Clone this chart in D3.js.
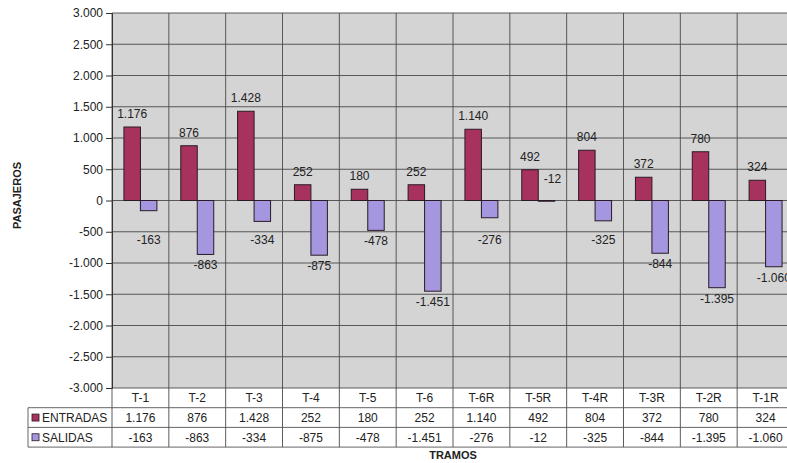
<!DOCTYPE html>
<html>
<head>
<meta charset="utf-8">
<script src="https://cdn.jsdelivr.net/npm/d3@7"></script>
<style>
  html, body { margin: 0; padding: 0; background: #fff; }
  svg { display: block; font-family: "Liberation Sans", Arial, sans-serif; }
</style>
</head>
<body>
<svg id="chart" width="787" height="463"></svg>
<script>
// Passengers boarding (entradas) and alighting (salidas) per route section
const tramos   = ["T-1", "T-2", "T-3", "T-4", "T-5", "T-6", "T-6R", "T-5R", "T-4R", "T-3R", "T-2R", "T-1R"];
const entradas = [1176, 876, 1428, 252, 180, 252, 1140, 492, 804, 372, 780, 324];
const salidas  = [-163, -863, -334, -875, -478, -1451, -276, -12, -325, -844, -1395, -1060];
const yTicks   = [-3000, -2500, -2000, -1500, -1000, -500, 0, 500, 1000, 1500, 2000, 2500, 3000];
const series = [
  { name: "ENTRADAS", values: entradas, color: "#a8325e" },
  { name: "SALIDAS",  values: salidas,  color: "#a596e0" }
];

// Spanish number style: dot as thousands separator, plain hyphen for negatives
const es = d3.formatLocale({ decimal: ",", thousands: ".", grouping: [3], currency: ["", ""], minus: "-" });
const fmt = es.format(",d");

const svg = d3.select("#chart");
const plot = { left: 112, right: 794, top: 13, bottom: 388 };
const rowH = 19.7;
const legendLeft = 28;
const tableBottom = plot.bottom + rowH * 3;

const x = d3.scaleBand().domain(tramos).range([plot.left, plot.right]);
const y = d3.scaleLinear().domain([-3000, 3000]).range([plot.bottom, plot.top]);
const barW = x.bandwidth() * 0.29;

// plot background
svg.append("rect")
  .attr("x", plot.left).attr("y", plot.top)
  .attr("width", plot.right - plot.left).attr("height", plot.bottom - plot.top)
  .attr("fill", "#d4d4d5");

// horizontal gridlines
svg.append("g").selectAll("line").data(yTicks).join("line")
  .attr("x1", plot.left).attr("x2", plot.right)
  .attr("y1", d => y(d)).attr("y2", d => y(d))
  .attr("stroke", "#4a4a4a").attr("stroke-width", 0.9);

// vertical category separators, running down through the data table
const bounds = tramos.map(t => x(t)).concat([plot.right]);
svg.append("g").selectAll("line").data(bounds).join("line")
  .attr("x1", d => d).attr("x2", d => d)
  .attr("y1", plot.top).attr("y2", tableBottom)
  .attr("stroke", "#4a4a4a").attr("stroke-width", 0.9);

// y axis
const yAxis = d3.axisLeft(y).tickValues(yTicks).tickFormat(fmt).tickSize(6).tickPadding(3);
const ga = svg.append("g").attr("transform", `translate(${plot.left},0)`).call(yAxis);
ga.select(".domain").attr("stroke", "#333");
ga.selectAll(".tick line").attr("stroke", "#333");
ga.selectAll(".tick text").attr("font-size", 12).attr("fill", "#222")
  .attr("font-family", "Liberation Sans, Arial, sans-serif");

// bars
const barX = (i, si) => x(tramos[i]) + x.bandwidth() / 2 - barW + si * barW;
series.forEach((s, si) => {
  svg.append("g").selectAll("rect").data(s.values).join("rect")
    .attr("x", (d, i) => barX(i, si))
    .attr("y", d => y(Math.max(0, d)))
    .attr("width", barW)
    .attr("height", d => Math.abs(y(d) - y(0)))
    .attr("fill", s.color)
    .attr("stroke", "#2a1a25").attr("stroke-width", 1);
});

// value labels: above positive bars, below negative ones (kept clear of the zero line);
// near-zero bars get theirs above the axis
const tiny = d => Math.abs(y(d) - y(0)) < 4;
series.forEach((s, si) => {
  svg.append("g").selectAll("text").data(s.values).join("text")
    .attr("x", (d, i) => barX(i, si) + barW / 2 + (tiny(d) ? 6 : 0))
    .attr("y", d => {
      if (d >= 0) return y(d) - 9;
      if (tiny(d)) return y(0) - 18;
      return Math.max(y(d) + 15, y(0) + 43);
    })
    .attr("text-anchor", "middle")
    .attr("font-size", 12).attr("fill", "#222")
    .text(d => fmt(d));
});

// data table
const table = svg.append("g");
[plot.bottom + rowH, plot.bottom + rowH * 2, tableBottom].forEach(yy => {
  table.append("line")
    .attr("x1", legendLeft).attr("x2", plot.right)
    .attr("y1", yy).attr("y2", yy)
    .attr("stroke", "#555").attr("stroke-width", 0.9);
});
table.append("line")
  .attr("x1", legendLeft).attr("x2", legendLeft)
  .attr("y1", plot.bottom + rowH).attr("y2", tableBottom)
  .attr("stroke", "#555").attr("stroke-width", 0.9);

// category row
table.selectAll("text.cat").data(tramos).join("text")
  .attr("class", "cat")
  .attr("x", d => x(d) + x.bandwidth() / 2)
  .attr("y", plot.bottom + rowH / 2 + 4)
  .attr("text-anchor", "middle").attr("font-size", 12).attr("fill", "#222")
  .text(d => d);

// series rows with legend keys
series.forEach((s, si) => {
  const rowTop = plot.bottom + rowH * (si + 1);
  table.append("rect")
    .attr("x", 32).attr("y", rowTop + rowH / 2 - 3.5)
    .attr("width", 7).attr("height", 7)
    .attr("fill", s.color).attr("stroke", "#2a1a25").attr("stroke-width", 0.8);
  table.append("text")
    .attr("x", 42).attr("y", rowTop + rowH / 2 + 4.5)
    .attr("font-size", 12).attr("fill", "#222")
    .text(s.name);
  table.selectAll(`text.v${si}`).data(s.values).join("text")
    .attr("class", `v${si}`)
    .attr("x", (d, i) => x(tramos[i]) + x.bandwidth() / 2)
    .attr("y", rowTop + rowH / 2 + 4.5)
    .attr("text-anchor", "middle").attr("font-size", 12).attr("fill", "#222")
    .text(d => fmt(d));
});

// axis titles
svg.append("text")
  .attr("transform", `translate(21,${(plot.top + plot.bottom) / 2 - 5}) rotate(-90)`)
  .attr("text-anchor", "middle").attr("font-size", 11).attr("font-weight", "bold").attr("fill", "#222")
  .text("PASAJEROS");
svg.append("text")
  .attr("x", (plot.left + plot.right) / 2).attr("y", 459)
  .attr("text-anchor", "middle").attr("font-size", 11).attr("font-weight", "bold").attr("fill", "#222")
  .text("TRAMOS");
</script>
</body>
</html>
